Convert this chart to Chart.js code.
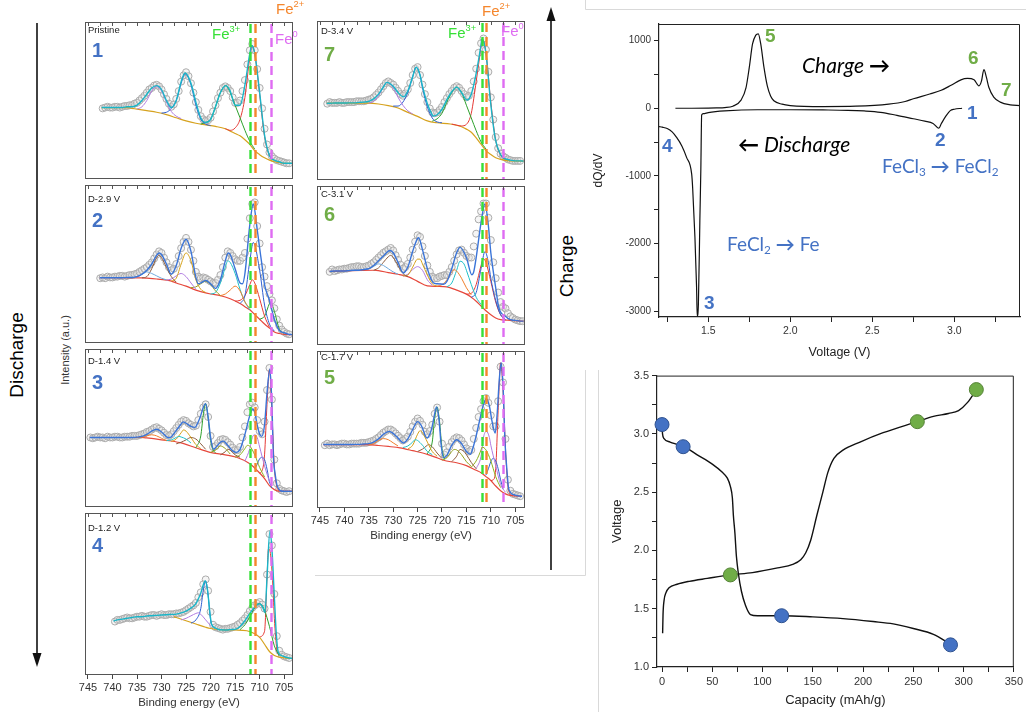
<!DOCTYPE html>
<html>
<head>
<meta charset="utf-8">
<title>Fe 2p XPS, dQ/dV and voltage profile</title>
<script src="https://cdn.jsdelivr.net/npm/chart.js@4.4.1/dist/chart.umd.min.js"></script>
<style>
  html, body { margin: 0; padding: 0; background: #fff; }
  body { position: relative; width: 1026px; height: 725px; overflow: hidden;
         font-family: Arial, "Liberation Sans", sans-serif; }
  canvas { position: absolute; }
  svg { position: absolute; left: 0; top: 0; }
  .t { position: absolute; white-space: nowrap; line-height: 1; }
  .cond { font-size: 9.5px; color: #222; }
  .num { font-size: 20px; font-weight: bold; }
  .blue { color: #4472c4; }
  .green { color: #70ad47; }
  .fe { font-size: 15px; }
  .fe sup { font-size: 62%; position: relative; top: -0.15em; vertical-align: top; }
  .cal { font-family: Lato, "Open Sans", sans-serif; }
  .cal sub { font-size: 62%; vertical-align: -0.25em; line-height: 0; }
  .rot { transform: rotate(-90deg); text-align: center; }
</style>
</head>
<body>
<svg width="1026" height="725">
  <g fill="none" stroke="#d9d9d9" stroke-width="1">
    <path d="M585.5 0 V9.5 H1026"/>
    <path d="M585.5 370 V575.5 H315"/>
    <path d="M598.5 370 V712"/>
  </g>
  <g stroke="#111" stroke-width="1.6" fill="#111">
    <line x1="37" y1="23" x2="37" y2="655"/>
    <polygon points="32.5,653 41.5,653 37,667" stroke="none"/>
    <line x1="551" y1="570" x2="551" y2="20"/>
    <polygon points="546.5,21 555.5,21 551,7" stroke="none"/>
  </g>
</svg>

<div class="t rot" style="left:-33px;top:345px;width:100px;height:20px;font-size:19px;">Discharge</div>
<div class="t rot" style="left:16px;top:344px;width:100px;height:12px;font-size:11px;color:#333;">Intensity (a.u.)</div>
<div class="t rot" style="left:517px;top:256px;width:100px;height:20px;font-size:19px;">Charge</div>

<script>
// ---------- Fe 2p XPS spectra: [binding energy (eV), intensity (a.u.)] ----------
const feLines = [711.9, 710.9, 707.6];              // Fe3+, Fe2+, Fe0
const feLineColors = ['#36e036', '#f5862c', '#df6cf2'];

// 1 - pristine
const p1Data = [[742,45],[741.5,45.5],[741,46],[740.5,45.5],[740,45.5],[739.5,46],[739,46],[738.5,45.5],[738,46],[737.5,46.5],[737,46.5],[736.5,47],[736,47],[735.5,48],[735,48.5],[734.5,50],[734,51.5],[733.5,53],[733,55],[732.5,57],[732,58],[731.5,59.5],[731,60],[730.5,59],[730,57],[729.5,54],[729,51],[728.5,48],[728,46],[727.5,47.5],[727,51],[726.5,56],[726,62],[725.5,66],[725,68],[724.5,65.5],[724,61],[723.5,55],[723,49],[722.5,44],[722,40],[721.5,38],[721,37],[720.5,37.5],[720,39],[719.5,43],[719,47],[718.5,51.5],[718,55],[717.5,58],[717,59],[716.5,58],[716,56],[715.5,52],[715,48.5],[714.5,48.5],[714,50],[713.5,56],[713,63],[712.5,73],[712,82],[711.5,86],[711,82],[710.5,70],[710,58],[709.5,45],[709,32],[708.5,22],[708,17],[707.5,14.5],[707,13],[706.5,12],[706,11.5],[705.5,11],[705,10.5],[704.5,10],[704,10]];
const p1Fit = [[742.2,45.5],[741,45.5],[740,45.5],[739,45.5],[738,45.5],[737,46],[736,46],[735,47],[734,50],[733,54],[732,58],[731,59.5],[730,57],[729,50],[728,45.5],[727,50],[726,62],[725.2,67.5],[724,61],[723,49],[722,39],[721,36],[720,38],[719,46],[718,55],[716.9,59.5],[716,56],[715,47],[714,47],[713,60],[712,80],[711.6,85],[711,80],[710,55],[709,28],[708,15],[707,12],[706,11],[705,10],[704,10],[703.4,10]];
const p1Bg = [[742.2,45.5],[737,45.5],[736,45],[735,44.5],[733,43.5],[731,42.5],[729,41],[727,39],[725,37],[723,35.5],[721,34.5],[719,33.5],[717,32],[716,30.5],[715,29],[714,27.5],[713,25],[712,22],[711,18],[710,15.5],[709,13.5],[708,12],[707,11],[706,10.5],[705,10],[703.4,10]];
const p1Peaks = [
  [[735,44.5],[734,46],[733,50],[732,56],[731,59],[730,56],[729,49],[728,43],[727,40],[726,38.5]],
  [[730,42],[729,42.5],[728,45],[727,50],[726,61],[725.2,67],[724,60],[723,47],[722,38],[721,35],[720,34]],
  [[722,35],[721,36],[720,38],[719,46],[718,55],[716.9,59.5],[716,55],[715,47],[714,39],[713,31],[712,24],[711,19]],
  [[717,32],[716,31],[715,32.5],[714,38],[713,52],[712,78],[711.6,85],[711,80],[710,54],[709,27],[708,15],[707,12]]
];

// 2 - D-2.9 V
const p2Data = [[742.5,41],[742,41.5],[741.5,41],[741,42],[740.5,41.5],[740,41.5],[739.5,42],[739,42],[738.5,42.5],[738,42.5],[737.5,42],[737,42.5],[736.5,43],[736,43],[735.5,43.5],[735,44],[734.5,45],[734,46],[733.5,47],[733,48],[732.5,49.5],[732,51],[731.5,53.5],[731,56],[730.5,58],[730,57],[729.5,54],[729,51],[728.5,48],[728,46],[727.5,47],[727,50],[726.5,55],[726,60],[725.5,64],[725,66.5],[724.5,64],[724,59],[723.5,52],[723,45],[722.5,42],[722,41],[721.5,41.5],[721,41],[720.5,40],[720,39],[719.5,38],[719,38],[718.5,40],[718,43],[717.5,48],[717,54],[716.5,58],[716,57],[715.5,55],[715,53],[714.5,52],[714,52],[713.5,54],[713,57],[712.5,66],[712,79],[711.5,88],[711,89],[710.5,74],[710,63],[709.5,48],[709,42],[708.5,36],[708,31],[707.5,27],[707,22],[706.5,15],[706,11],[705.5,8.5],[705,7],[704.5,6],[704,5.5]];
const p2Fit = [[742.6,41.3],[741,41.3],[740,41.3],[739,41.3],[738,41.3],[737,41.5],[736,41.5],[735,42],[734,43.5],[733,46],[732,50],[731,55.5],[730.5,57],[730,56],[729,50],[728,43.5],[727,49],[726,60],[725,65.7],[724,58],[723,41.5],[722.5,37.5],[722,38],[721,39.6],[720,37.5],[719,34.5],[718,40],[717,52],[716.4,57],[716,56],[715,47],[714,38],[713.5,37.5],[713,44],[712,75],[711.3,88],[710.5,72],[710,60],[709.6,51],[709,37],[708,27],[707,15],[706,8],[705,6.5],[704,5.5],[703.4,5.3]];
const p2Bg = [[742.6,41.3],[734,41.2],[733,41],[731,40.5],[729,39.8],[728,39.2],[727,38],[725,36],[723,33.5],[722,32.5],[720,31],[718,30],[716,28],[714,25],[713,23],[712,21],[711,18],[710,15],[709,12],[708,9.5],[707,7],[706,6],[705,5.5],[703.4,5.3]];
const p2Peaks = [
  [[736,41.2],[735,42],[734,43.5],[733,45],[732,44],[731,42.5],[730,41],[729,40]],
  [[734,41.2],[733,42],[732,47],[731,54],[730.5,55.5],[730,54],[729,48],[728,42],[727,38.5]],
  [[728,39.2],[727,41],[726,50],[725,57],[724,52],[723,40],[722,34],[721,32]],
  [[729,39.8],[728,40.5],[727,42.5],[726,44],[725,42],[724,38],[723,34]],
  [[724,35],[723,35.5],[722,37.5],[721,39],[720,37],[719,33],[718,30]],
  [[718,30],[717,31],[716,33.5],[715,36],[714,33],[713,26],[712,22]],
  [[720,31],[719,32],[718,38],[717,48],[716.5,52],[716,51],[715,44],[714,34],[713,26],[712,21]],
  [[714,25],[713,30],[712,52],[711.3,63.6],[710,46],[709,24],[708,12],[707,7.5]],
  [[715,26.5],[714,27],[713,30],[712,37],[711.5,40],[711,38],[710,28],[709,17],[708,10]],
  [[710,15],[709,17],[708,25],[707.8,26],[707,20],[706,9],[705,6]]
];

// 3 - D-1.4 V
const p3Data = [[744.5,44],[744,43.5],[743.5,44],[743,44.5],[742.5,44],[742,44],[741.5,43.5],[741,44.5],[740.5,44],[740,44],[739.5,44.5],[739,44.5],[738.5,44],[738,44],[737.5,44.5],[737,44.5],[736.5,44.5],[736,45],[735.5,45],[735,45],[734.5,45.5],[734,46],[733.5,46.5],[733,47.5],[732.5,48],[732,49],[731.5,50],[731,50.5],[730.5,49.5],[730,48.5],[729.5,47],[729,45.5],[728.5,45],[728,46],[727.5,48],[727,50],[726.5,52],[726,54],[725.5,55],[725,54.5],[724.5,53],[724,52],[723.5,51],[723,51.5],[722.5,55],[722,59],[721.5,63],[721,65],[720.5,57],[720,45],[719.5,38],[719,38.5],[718.5,40.5],[718,42.5],[717.5,43],[717,42.5],[716.5,41],[716,39.5],[715.5,37.5],[715,36],[714.5,36],[714,38],[713.5,44],[713,51],[712.5,60],[712,65],[711.5,66],[711,63],[710.5,55],[710,48],[709.5,46],[709,54],[708.5,74],[708,88],[707.5,68],[707,30],[706.5,15],[706,11.5],[705.5,10.5],[705,10],[704.5,9.5],[704,10]];
const p3Fit = [[744.6,44],[743,44],[742,44],[741,44],[740,44],[739,44],[738,44],[737,44],[736,44],[735,44.2],[734,44.7],[733,46],[732,48],[731,49.2],[730,47.5],[729,44.5],[728.6,43.8],[728,44.5],[727,48.5],[726,52.5],[725.6,53.9],[725,53],[724,51],[723.2,50.4],[722.5,54],[722,58],[721.5,63],[721,65.4],[720.5,57],[720,44],[719.4,36.6],[719,37.5],[718,41],[717.4,41.7],[716.5,39],[715.5,35.5],[714.7,34.6],[714,36.5],[713,46],[712,58],[711.4,62],[711,60],[710.5,52],[710,46],[709.6,44.7],[709,52],[708.5,72],[707.9,87.4],[707.5,65],[707.2,32.5],[706.8,20],[706.5,14.2],[706,11],[705.8,10.3],[705,10],[704,10],[703.4,10]];
const p3Bg = [[744.6,44],[734,44],[733,43.7],[730,42.5],[726.2,40.7],[723,37.5],[720.1,34.6],[717,33],[714.7,31.5],[712,27.4],[710,21.5],[709,18],[708,13.5],[707,11],[706,10],[703.4,10]];
const p3Peaks = [
  [[735,44],[734,44.2],[733,45],[732,45.7],[731,45],[730,43.5],[729,42]],
  [[729,42],[728,42.5],[727,44],[726.5,44.7],[726,44.3],[725,43],[724,40.5]],
  [[728,41.5],[727,43],[726,47],[725.5,48.8],[725,48],[724,44],[723,39.5],[722,37]],
  [[727,40],[726,41],[725,42.5],[724,44],[723,43],[722,40],[721,36.5]],
  [[723,37.5],[722,45],[721.5,58],[721,65.4],[720.5,56],[720,42],[719.5,36],[719,34.5]],
  [[720,34.6],[719,36],[718,38.6],[717,37],[716,33.5]],
  [[718,33],[717,35],[716.5,36.6],[716,36],[715,33],[714,31.5]],
  [[715,31.5],[714,33],[713,37],[712.5,39],[712,38.5],[711,33],[710,25],[709,19]],
  [[713,29],[712,37],[711.5,44],[711,45.7],[710.5,44],[710,38],[709,26],[708,16]],
  [[711,24],[710.5,27],[710,30.5],[709.5,31.5],[709,30],[708.5,24],[708,16],[707.5,12]],
  [[710,21.5],[709.5,23],[709,33],[708.5,65],[708,87],[707.5,60],[707,25],[706.5,13],[706,10]]
];

// 4 - D-1.2 V
const p4Data = [[739.5,33],[739,34],[738.5,34],[738,34.5],[737.5,35],[737,35.5],[736.5,35],[736,35],[735.5,35.5],[735,36],[734.5,36],[734,36.5],[733.5,36],[733,36],[732.5,36.5],[732,37],[731.5,37],[731,36.5],[730.5,37],[730,37.5],[729.5,37],[729,37],[728.5,37.5],[728,37.5],[727.5,37.5],[727,38],[726.5,38],[726,38.5],[725.5,39],[725,40],[724.5,41],[724,42],[723.5,43],[723,44.5],[722.5,48],[722,51],[721.5,56],[721,59],[720.5,52],[720,39],[719.5,31],[719,29.5],[718.5,29],[718,28.5],[717.5,28],[717,28.5],[716.5,28.5],[716,29],[715.5,29.5],[715,30],[714.5,31],[714,32],[713.5,33.5],[713,35],[712.5,37],[712,39.5],[711.5,41.5],[711,43],[710.5,44],[710,45],[709.5,43.5],[709,41],[708.5,62],[708,87],[707.5,80],[707,50],[706.5,24],[706,15],[705.5,12.5],[705,11.5],[704.5,11],[704,10.5]];
const p4Fit = [[739.8,33.3],[739,34],[738,34.5],[737,35],[736,35.5],[735,36],[734,36],[733,36.4],[732,36.6],[731,36.8],[730,37],[729,37.2],[728,37.4],[727,37.6],[726,38.3],[725,39.5],[724,41.3],[723.5,42.4],[723,44],[722.5,47],[722,50.5],[721.5,55.5],[721.1,58.2],[720.6,52],[720.2,40],[719.8,31.3],[719,29],[718.1,27.9],[717,27.8],[716,28],[714.7,28.5],[714,30],[713,33.5],[712,38],[711,42],[710,44],[709.4,42],[708.9,38.4],[708.5,60],[707.9,88.9],[707.5,78],[707,48],[706.6,25],[706.2,14.1],[705.5,12],[704.8,11.1],[704,10.5],[703.4,10.3]];
const p4Bg = [[727.5,36],[727,35.5],[725,33.5],[723,31.5],[721,29.5],[720,28.7],[718,28],[715,27.8],[712.6,27.3],[711,25.5],[710,23.2],[709,19],[708,14.5],[707,12],[706,11],[704,10.3],[703.4,10.3]];
const p4Peaks = [
  [[726,34],[725,35],[724,36.5],[723,38],[722.5,38.4],[722,37.5],[721,34],[720,30.5]],
  [[724,32],[723,34],[722,41],[721.5,52],[721,58],[720.5,49],[720,34],[719.5,29.5]],
  [[714,28],[713,31],[712,36],[711,41.5],[710.3,44],[709.5,43],[709,40],[708,30],[707,18],[706,12]],
  [[710,23.5],[709,27],[708.5,60],[708.2,77.8],[707.8,75],[707.3,55],[707,35],[706.5,16],[706,12]]
];

// 7 - D-3.4 V
const p7Data = [[743.5,48],[743,49],[742.5,48.5],[742,48.5],[741.5,48.5],[741,49],[740.5,48.5],[740,48.5],[739.5,49],[739,49],[738.5,49],[738,49],[737.5,49.5],[737,49.5],[736.5,49.5],[736,49.5],[735.5,50],[735,50.5],[734.5,51],[734,52],[733.5,53.5],[733,55],[732.5,57],[732,59],[731.5,61],[731,62],[730.5,61],[730,60],[729.5,58],[729,56],[728.5,54],[728,53],[727.5,54.5],[727,57],[726.5,61],[726,66],[725.5,70],[725,71],[724.5,66],[724,60],[723.5,54],[723,49],[722.5,45],[722,42.5],[721.5,42],[721,42.5],[720.5,44],[720,46],[719.5,49],[719,51.5],[718.5,54],[718,56],[717.5,58],[717,59],[716.5,58],[716,56],[715.5,54],[715,52],[714.5,53],[714,56],[713.5,62],[713,70],[712.5,80],[712,86],[711.5,89],[711,82],[710.5,68],[710,52],[709.5,38],[709,27],[708.5,20],[708,16.5],[707.5,15],[707,14],[706.5,13],[706,12.5],[705.5,12],[705,12],[704.5,12],[704,12]];
const p7Fit = [[743.6,48.3],[743,48.3],[742,48.4],[741,48.4],[740,48.4],[739,48.5],[738,48.5],[737,48.8],[736,49],[735,49.5],[734,51],[733,54],[732,58.5],[731.3,61.4],[730,59],[729,55],[727.9,52.3],[727,56],[726,65],[725.3,70.9],[724.5,66],[724,59],[723,48],[722,41],[721.8,40.2],[721,41],[720,44.5],[719,50.5],[718,55.5],[717,58.4],[716,55],[714.9,50.3],[714,54],[713,67],[712,85],[711.8,88.7],[711,80],[710.1,50.3],[709.1,26.1],[708,16],[707.4,13.9],[706,12.5],[705,12],[704,12],[703.3,11.9]];
const p7Bg = [[743.6,48.3],[735,48.3],[733,47.8],[731,46.8],[729,45.3],[727,42.5],[725,40],[723,37.2],[721,36],[718.3,35.2],[716,33.5],[715,32],[714,30],[713,26.5],[712,22.5],[711,18.5],[710,16],[709,14],[708,13],[706,12],[703.3,11.9]];
const p7Peaks = [
  [[735,48.3],[734,49.5],[733,53],[732,58.5],[731.3,61.4],[730,58],[729,52],[728,47],[727,43.5],[726,41.5]],
  [[730,46.5],[729,46.5],[728,49],[727,55],[726,65],[725.3,70.9],[724.5,66],[724,58],[723,46],[722,39],[721,36.5],[720,36]],
  [[722,37],[721,38.5],[720,42],[719,49],[718,55],[717,58.4],[716,55],[715,47],[714,39],[713,31],[712,24],[711,19.5]],
  [[718,35.2],[717,34.5],[716,34],[715,35],[714,42],[713,62],[712,84],[711.8,88.7],[711,80],[710,49],[709,25],[708,15.5],[707,13]]
];

// 6 - C-3.1 V
const p6Data = [[743,46],[742.5,47.5],[742,46.5],[741.5,47],[741,47.5],[740.5,47.5],[740,48],[739.5,48],[739,48.5],[738.5,49],[738,49],[737.5,49.5],[737,49.5],[736.5,49],[736,49],[735.5,49.5],[735,50],[734.5,51],[734,52],[733.5,53.5],[733,55],[732.5,56.5],[732,58],[731.5,59],[731,60],[730.5,61],[730,59.5],[729.5,56.5],[729,53.5],[728.5,50.5],[728,48],[727.5,49],[727,51],[726.5,55],[726,60],[725.5,65],[725,69],[724.5,68],[724,62],[723.5,56],[723,50],[722.5,46],[722,43],[721.5,42],[721,42],[720.5,43],[720,43.5],[719.5,44],[719,44],[718.5,46],[718,49],[717.5,53],[717,57],[716.5,59.5],[716,60],[715.5,58],[715,56],[714.5,55],[714,55],[713.5,62],[713,70],[712.5,79],[712,84],[711.5,89],[711,89],[710.5,80],[710,66],[709.5,52],[709,42],[708.5,33],[708,27],[707.5,24],[707,23],[706.5,20],[706,18],[705.5,17],[705,16],[704.5,15.5],[704,15],[703.5,15]];
const p6Fit = [[743,46.3],[742,46.5],[741,46.5],[740,46.5],[739,46.8],[738,47],[737,47],[736,47.5],[735,48],[734,50],[733,53],[732,56],[731,59],[730.6,59.4],[730,58],[729,52],[727.9,45.3],[727,49],[726,59],[725,67],[724.8,67.5],[724,60],[723,48],[721.8,39.2],[721,38.5],[719.7,38.2],[719,40],[718,48],[717,58],[716.3,61.4],[715,55],[713.9,44.2],[713.5,46],[713,55],[712,77],[711.2,88.7],[710.5,75],[710,58],[709.4,44.2],[709,36],[708.4,24],[707,18],[706,16],[705,15.5],[704,15],[703.3,15]];
const p6Bg = [[743,46.3],[734,47],[733,46.8],[731,45.5],[729,44.5],[727,43],[725,40],[723,37.2],[721,36.9],[719,36.6],[717,34.5],[715,32],[714,30],[713,27.5],[712,24.5],[711,21.5],[710,19],[709,17],[708,16],[706,15.5],[703.3,15]];
const p6Peaks = [
  [[736,47.5],[735,48],[734,49.5],[733,51],[732,50],[731,48],[730,46],[729,44.5]],
  [[734,47],[733,48.5],[732,52],[731,55.5],[730.5,56.4],[730,55],[729,50],[728,45],[727,43]],
  [[728,43.5],[727,44],[726,49],[725,54],[724.5,54],[724,51],[723,44],[722,38.5],[721,37]],
  [[728,43.3],[727,44.5],[726,47.5],[725,49.3],[724,47],[723,41],[722,37.5]],
  [[721,37],[720,38],[719,41],[718,46],[717.5,47.3],[717,46.5],[716,42],[715,36],[714,31.5]],
  [[719,36.6],[718,39],[717,47],[716.3,52.7],[715.5,51],[715,47],[714,38],[713,30],[712,25.5]],
  [[714,30],[713,33],[712,48],[711.2,58.8],[710.5,52],[710,42],[709,28],[708,19],[707,16]],
  [[715,32],[714,32.5],[713,38],[712,50],[711.5,54.3],[711,52],[710,40],[709,27],[708,19],[707,16]]
];

// 5 - C-1.7 V
const p5Data = [[744,40],[743.5,41],[743,40],[742.5,40.5],[742,40.5],[741.5,40],[741,40.5],[740.5,41],[740,41],[739.5,40.5],[739,40.5],[738.5,41],[738,41],[737.5,41],[737,41],[736.5,41.5],[736,41.5],[735.5,41.5],[735,42],[734.5,42.5],[734,43],[733.5,44],[733,45],[732.5,46.5],[732,48],[731.5,49],[731,50],[730.5,50],[730,49],[729.5,47.5],[729,46],[728.5,44.5],[728,43],[727.5,44],[727,45.5],[726.5,48.5],[726,52],[725.5,55],[725,57],[724.5,55.5],[724,53],[723.5,48.5],[723,47],[722.5,49],[722,53],[721.5,60],[721,64],[720.5,55],[720,41],[719.5,34],[719,35.5],[718.5,39],[718,42],[717.5,44],[717,45],[716.5,44.5],[716,43],[715.5,40.5],[715,38],[714.5,36],[714,37],[713.5,44],[713,51],[712.5,58],[712,63],[711.5,68],[711,70],[710.5,67],[710,59],[709.5,52],[709,52],[708.5,68],[708,90],[707.5,80],[707,44],[706.5,18],[706,11],[705.5,9],[705,8.5],[704.5,8],[704,7.5]];
const p5Fit = [[744.3,40.4],[743,40.4],[742,40.4],[741,40.4],[740,40.4],[739,40.4],[738,40.5],[737,40.5],[736,40.8],[735,41],[734,42],[733,44],[732,47],[730.8,48.8],[730,47.5],[729,44.5],[727.9,41.4],[727,44],[726,50],[725,55],[724,51],[723.5,46.5],[723.1,44.6],[722.5,47],[722,52],[721.5,60],[721.1,64.4],[720.6,56],[720.2,41],[719.7,32.1],[719,33.5],[718,40],[717,43.5],[716,41],[715,36],[714.2,34.2],[713.5,40],[713,46],[712.2,57],[711.5,66],[710.9,69.6],[710.3,65],[709.8,56],[709.1,47.7],[708.7,60],[708.3,80],[707.9,92.5],[707.5,78],[707.1,42.5],[706.7,24],[706.4,13.3],[706,10],[705,8.2],[704,7.6],[703.6,7.5]];
const p5Bg = [[744.3,40.4],[735.4,40.4],[733,39.8],[731,39.2],[728.6,38.3],[726,36.5],[723,34.2],[721,32],[719.7,30.4],[717,28.8],[715,27],[713,24],[712,22.5],[711,20],[710,17.5],[709,14],[708,11],[707,9],[706,8],[703.6,7.5]];
const p5Peaks = [
  [[735,40.4],[734,41],[733,43],[732,44.2],[731,43.5],[730,41.5],[729,39.5]],
  [[728,38.5],[727,39.5],[726,42],[725.5,43.5],[725,43],[724,40],[723,36],[722,34]],
  [[727,37.5],[726,40],[725,47],[724.5,49.2],[724,48],[723,42],[722,36],[721,33]],
  [[725,36],[724,37.5],[723,40],[722.8,40.4],[722,39],[721,35],[720,31.5]],
  [[723,34.5],[722,42],[721.5,57],[721,64.4],[720.5,55],[720,38],[719.5,31]],
  [[720,30.5],[719,32],[718,36],[717.5,37.3],[717,37],[716,34],[715,29.5],[714,26.5]],
  [[718,29.5],[717,33],[716.3,37.3],[715.5,36],[715,34],[714,29],[713,25]],
  [[714,26],[713,30],[712,37],[711.8,38.8],[711,37],[710,30],[709,20],[708,13]],
  [[713,25],[712,33],[711.5,45],[710.9,48.8],[710.3,45],[710,40],[709,27],[708,15],[707,10]],
  [[711,21],[710.5,25],[710,29.5],[709.5,31.7],[709,30],[708.5,25],[708,18],[707.5,12]],
  [[710,17.5],[709.5,18],[709,25],[708.5,62],[708,92.5],[707.5,75],[707,38],[706.5,14],[706,8.5]]
];

// ---------- dQ/dV: [voltage (V), dQ/dV] ----------
const dqCharge = [[1.30,0],[1.40,0],[1.50,2],[1.55,5],[1.60,10],[1.65,30],[1.70,120],[1.73,300],[1.75,600],[1.77,950],[1.79,1080],[1.805,1100],[1.82,950],[1.84,600],[1.86,330],[1.88,180],[1.90,110],[1.95,60],[2.0,40],[2.2,25],[2.4,30],[2.6,60],[2.7,100],[2.75,140],[2.85,210],[2.92,265],[2.98,340],[3.04,420],[3.08,440],[3.12,420],[3.15,330],[3.165,400],[3.18,570],[3.195,460],[3.21,310],[3.24,165],[3.28,90],[3.34,50],[3.40,40]];
const dqDischarge = [[1.2,-270],[1.22,-280],[1.25,-300],[1.28,-350],[1.307,-430],[1.34,-560],[1.368,-726],[1.399,-970],[1.405,-1170],[1.419,-1910],[1.429,-2650],[1.433,-3070],[1.44,-2900],[1.449,-1660],[1.455,-900],[1.46,-100],[1.47,-80],[1.5,-65],[1.6,-40],[1.8,-22],[2.0,-22],[2.2,-25],[2.35,-30],[2.45,-40],[2.55,-60],[2.65,-105],[2.75,-155],[2.82,-190],[2.87,-225],[2.89,-270],[2.905,-295],[2.92,-230],[2.95,-110],[2.975,-35],[3.0,-15],[3.047,0]];
const dqYTicks = [-3000, -2500, -2000, -1500, -1000, -500, 0, 500, 1000];

// ---------- Voltage profile: [capacity (mAh/g), voltage (V)] ----------
const vDischarge = [[0,3.08],[0.5,3.0],[2,2.96],[8,2.93],[15,2.91],[22,2.89],[35,2.82],[50,2.74],[60,2.67],[65,2.62],[68,2.55],[70,2.45],[71,2.30],[72.5,2.15],[74,1.95],[76,1.80],[79,1.65],[83,1.53],[88,1.45],[95,1.44],[120,1.44],[150,1.43],[180,1.415],[210,1.39],[230,1.37],[250,1.33],[270,1.28],[288,1.19]];
const vCharge = [[0.6,1.29],[1,1.45],[2,1.57],[4,1.64],[7,1.68],[15,1.71],[27,1.735],[45,1.76],[68,1.79],[90,1.81],[115,1.85],[130,1.88],[138,1.92],[143,1.98],[148,2.09],[154,2.3],[160,2.5],[165,2.67],[171,2.79],[180,2.86],[197,2.93],[220,3.01],[254,3.105],[270,3.15],[285,3.175],[295,3.2],[304,3.27],[312.7,3.38]];
const vDischargeMarks = [[0,3.08],[21,2.89],[119,1.44],[287,1.19]];
const vChargeMarks = [[68,1.79],[254,3.105],[312.7,3.38]];

// ---------- drawing ----------
Chart.defaults.font.family = 'Arial, "Liberation Sans", sans-serif';
Chart.defaults.color = '#333';

const xy = pts => pts.map(([x, y]) => ({x, y}));
const cyanFit = '#19b5c8', goldBg = '#d6a21e', blueFit = '#3a74d8', redBg = '#e6483c';
const cPurple = '#b07be0', cBlue = '#2f5fd0', cGreen = '#2ca02c', cRed = '#e53935',
      cLight = '#6fa8dc', cBrown = '#8b5a3c', cGold = '#d4a017', cOlive = '#95a01c',
      cOrange = '#f07f2a', cCyan = '#20c0c8';

// frame, inward top ticks and the Fe reference lines of one XPS panel
const xpsFrame = {
  id: 'xpsFrame',
  afterDatasetsDraw(chart) {
    const {ctx, chartArea: a, scales: {x}} = chart;
    ctx.save();
    ctx.lineWidth = 2.4;
    ctx.setLineDash([9, 5]);
    feLines.forEach((e, i) => {
      const px = Math.round(x.getPixelForValue(e)) + 0.5;
      ctx.strokeStyle = feLineColors[i];
      ctx.beginPath(); ctx.moveTo(px, a.top + 2); ctx.lineTo(px, a.bottom); ctx.stroke();
    });
    ctx.setLineDash([]);
    ctx.lineWidth = 1;
    ctx.strokeStyle = '#555';
    ctx.strokeRect(a.left + 0.5, a.top + 0.5, a.right - a.left - 1, a.bottom - a.top - 1);
    for (let e = 745; e > x.min; e -= 2.5) {
      const px = Math.round(x.getPixelForValue(e)) + 0.5;
      ctx.beginPath(); ctx.moveTo(px, a.top); ctx.lineTo(px, a.top + 4); ctx.stroke();
    }
    ctx.restore();
  }
};

function lineSet(pts, color, width) {
  return { data: xy(pts), borderColor: color, borderWidth: width, pointRadius: 0,
           fill: false, cubicInterpolationMode: 'monotone' };
}

function xpsPanel(p) {
  const axisH = p.axis ? 52 : 0;
  const padB = p.axis ? 0 : 2;
  const c = document.createElement('canvas');
  c.width = 208 + 24;
  c.height = p.h + 2 + padB + axisH;
  c.style.left = (p.x - 12) + 'px';
  c.style.top = (p.y - 2) + 'px';
  document.body.appendChild(c);

  const datasets = [lineSet(p.fit, p.fitColor, 1.4)]
    .concat(p.peaks.map((pk, i) => lineSet(pk, p.peakColors[i], 1)))
    .concat([lineSet(p.bg, p.bgColor, 1.2), {
      data: xy(p.data), showLine: false, pointRadius: 3.5, pointBorderWidth: 1,
      pointBorderColor: '#ababab', pointBackgroundColor: 'rgba(225,225,225,0.35)'
    }]);

  new Chart(c, {
    type: 'line',
    data: { datasets },
    options: {
      responsive: false, animation: false, devicePixelRatio: 1,
      layout: { padding: { left: 12, right: 12, top: 2, bottom: padB } },
      plugins: { legend: { display: false }, tooltip: { enabled: false } },
      scales: {
        x: {
          type: 'linear', reverse: true, min: p.xmin, max: 745.6, display: !!p.axis,
          ticks: { stepSize: 5, includeBounds: false, autoSkip: false, maxRotation: 0,
                   color: '#333', font: { size: 11 }, padding: 2 },
          grid: { drawOnChartArea: false, tickLength: 4, color: '#444' },
          border: { display: false },
          title: { display: true, text: 'Binding energy (eV)', color: '#333',
                   font: { size: 11.5 }, padding: { top: 0, bottom: 17 } },
          afterFit(s) { s.height = axisH; }
        },
        y: { display: false, min: 0, max: 100 }
      }
    },
    plugins: [xpsFrame]
  });
}

const xpsPanels = [
  { x: 85, y: 19, h: 163, xmin: 703.2, data: p1Data, fit: p1Fit, bg: p1Bg, peaks: p1Peaks,
    fitColor: cyanFit, bgColor: goldBg, peakColors: [cPurple, cBlue, cGreen, cRed] },
  { x: 85, y: 182, h: 164, xmin: 703.2, data: p2Data, fit: p2Fit, bg: p2Bg, peaks: p2Peaks,
    fitColor: blueFit, bgColor: redBg,
    peakColors: [cLight, cBrown, cGold, cPurple, cOlive, cOrange, cCyan, cBlue, cRed, cGreen] },
  { x: 85, y: 346, h: 164, xmin: 703.2, data: p3Data, fit: p3Fit, bg: p3Bg, peaks: p3Peaks,
    fitColor: blueFit, bgColor: redBg,
    peakColors: [cOrange, cCyan, cGold, cBrown, cGreen, cOlive, cBrown, '#8cb01c', cPurple, cBlue, cRed] },
  { x: 85, y: 510, h: 165, xmin: 703.2, axis: true, data: p4Data, fit: p4Fit, bg: p4Bg, peaks: p4Peaks,
    fitColor: cyanFit, bgColor: goldBg, peakColors: [cPurple, cBlue, cGreen, cRed] },
  { x: 317, y: 18, h: 165, xmin: 703, data: p7Data, fit: p7Fit, bg: p7Bg, peaks: p7Peaks,
    fitColor: cyanFit, bgColor: goldBg, peakColors: [cPurple, cBlue, cGreen, cRed] },
  { x: 317, y: 183, h: 165, xmin: 703, data: p6Data, fit: p6Fit, bg: p6Bg, peaks: p6Peaks,
    fitColor: blueFit, bgColor: redBg,
    peakColors: [cLight, cBrown, cGold, cPurple, cOrange, cCyan, cBlue, cRed] },
  { x: 317, y: 348, h: 160, xmin: 703, axis: true, data: p5Data, fit: p5Fit, bg: p5Bg, peaks: p5Peaks,
    fitColor: blueFit, bgColor: redBg,
    peakColors: [cOrange, cCyan, cGold, cBrown, cGreen, cOlive, cBrown, '#8cb01c', cPurple, cBlue, cRed] }
];
xpsPanels.forEach(xpsPanel);

// top and right sides of the plot box
const boxFrame = {
  id: 'boxFrame',
  afterDraw(chart) {
    const {ctx, chartArea: a} = chart;
    ctx.save();
    ctx.strokeStyle = '#222';
    ctx.lineWidth = 1;
    ctx.beginPath();
    ctx.moveTo(a.left, a.top + 0.5);
    ctx.lineTo(a.right - 0.5, a.top + 0.5);
    ctx.lineTo(a.right - 0.5, a.bottom);
    ctx.stroke();
    ctx.restore();
  }
};

const onStep = (v, step) => Math.abs(v / step - Math.round(v / step)) < 1e-6;

function sideCanvas(left, top, w, h) {
  const c = document.createElement('canvas');
  c.width = w; c.height = h;
  c.style.left = left + 'px'; c.style.top = top + 'px';
  document.body.appendChild(c);
  return c;
}

function axis(opts) {
  return Object.assign({
    type: 'linear',
    grid: { drawOnChartArea: false, color: '#222', tickLength: 5 },
    border: { color: '#222', width: 1.2 }
  }, opts);
}

// dQ/dV vs voltage
new Chart(sideCanvas(585, 10, 441, 352), {
  type: 'line',
  data: { datasets: [
    lineSet(dqCharge, '#111', 1.2),
    lineSet(dqDischarge, '#111', 1.2)
  ] },
  options: {
    responsive: false, animation: false, devicePixelRatio: 1,
    layout: { padding: { top: 14, right: 6, left: 0, bottom: 0 } },
    plugins: { legend: { display: false }, tooltip: { enabled: false } },
    scales: {
      x: axis({
        min: 1.2, max: 3.4,
        ticks: { stepSize: 0.25, includeBounds: false, autoSkip: false, maxRotation: 0,
                 font: { size: 10.5 }, color: '#333', padding: 3,
                 callback: v => onStep(v, 0.5) ? v.toFixed(1) : '' },
        title: { display: true, text: 'Voltage (V)', font: { size: 12.5 }, color: '#222',
                 padding: { top: 0, bottom: 2 } },
        afterFit(s) { s.height = 45; }
      }),
      y: axis({
        min: -3085, max: 1245,
        afterBuildTicks(s) { s.ticks = dqYTicks.map(value => ({ value })); },
        ticks: { autoSkip: false, font: { size: 10 }, color: '#333', padding: 3,
                 callback: v => onStep(v, 1000) ? String(v) : '' },
        title: { display: true, text: 'dQ/dV', font: { size: 12 }, color: '#222',
                 padding: { top: 6, bottom: 0 } },
        afterFit(s) { s.width = 74; }
      })
    }
  },
  plugins: [boxFrame]
});

// voltage vs capacity
function marks(pts, fill, edge) {
  return { data: xy(pts), showLine: false, pointRadius: 7, pointBorderWidth: 1,
           pointBackgroundColor: fill, pointBorderColor: edge, clip: false };
}

new Chart(sideCanvas(598, 366, 428, 359), {
  type: 'line',
  data: { datasets: [
    marks(vChargeMarks, '#70ad47', '#548235'),
    marks(vDischargeMarks, '#4472c4', '#2f528f'),
    lineSet(vDischarge, '#111', 1.4),
    lineSet(vCharge, '#111', 1.4)
  ] },
  options: {
    responsive: false, animation: false, devicePixelRatio: 1,
    layout: { padding: { top: 9, right: 9, left: 0, bottom: 0 } },
    plugins: { legend: { display: false }, tooltip: { enabled: false } },
    scales: {
      x: axis({
        min: -5, max: 350,
        ticks: { stepSize: 25, includeBounds: false, autoSkip: false, maxRotation: 0,
                 font: { size: 11 }, color: '#333', padding: 3,
                 callback: v => onStep(v, 50) ? String(v) : '' },
        title: { display: true, text: 'Capacity (mAh/g)', font: { size: 13 }, color: '#222',
                 padding: { top: 0, bottom: 17 } },
        afterFit(s) { s.height = 58; }
      }),
      y: axis({
        min: 1.0, max: 3.5,
        ticks: { stepSize: 0.25, includeBounds: false, autoSkip: false, font: { size: 11 }, color: '#333', padding: 3,
                 callback: v => onStep(v, 0.5) ? v.toFixed(1) : '' },
        title: { display: true, text: 'Voltage', font: { size: 13 }, color: '#222',
                 padding: { top: 12, bottom: 0 } },
        afterFit(s) { s.width = 59; }
      })
    }
  },
  plugins: [boxFrame]
});
</script>

<!-- XPS panel captions -->
<div class="t cond" style="left:88px;top:25px;">Pristine</div>
<div class="t num blue" style="left:92px;top:40px;">1</div>
<div class="t cond" style="left:88px;top:194px;">D-2.9 V</div>
<div class="t num blue" style="left:92px;top:210px;">2</div>
<div class="t cond" style="left:88px;top:356px;">D-1.4 V</div>
<div class="t num blue" style="left:92px;top:372px;">3</div>
<div class="t cond" style="left:88px;top:523px;">D-1.2 V</div>
<div class="t num blue" style="left:92px;top:535px;">4</div>
<div class="t cond" style="left:321px;top:26px;">D-3.4 V</div>
<div class="t num green" style="left:324px;top:44px;">7</div>
<div class="t cond" style="left:321px;top:189px;">C-3.1 V</div>
<div class="t num green" style="left:324px;top:204px;">6</div>
<div class="t cond" style="left:321px;top:352px;">C-1.7 V</div>
<div class="t num green" style="left:324px;top:367px;">5</div>

<div class="t fe" style="left:212px;top:26px;color:#36e036;">Fe<sup>3+</sup></div>
<div class="t fe" style="left:276px;top:1px;color:#f5862c;">Fe<sup>2+</sup></div>
<div class="t fe" style="left:275px;top:31px;color:#df6cf2;">Fe<sup>0</sup></div>
<div class="t fe" style="left:448px;top:25px;color:#36e036;">Fe<sup>3+</sup></div>
<div class="t fe" style="left:482px;top:3px;color:#f5862c;">Fe<sup>2+</sup></div>
<div class="t fe" style="left:501px;top:23px;color:#df6cf2;">Fe<sup>0</sup></div>

<!-- dQ/dV annotations -->
<div class="t num green" style="left:765px;top:26px;font-size:19px;">5</div>
<div class="t cal" style="left:802px;top:54px;font-size:21px;font-style:italic;">Charge <b style="font-style:normal">&#8594;</b></div>
<div class="t num green" style="left:968px;top:48px;font-size:19px;">6</div>
<div class="t num green" style="left:1001px;top:80px;font-size:19px;">7</div>
<div class="t num blue" style="left:967px;top:103px;font-size:19px;">1</div>
<div class="t num blue" style="left:935px;top:130px;font-size:19px;">2</div>
<div class="t cal" style="left:738px;top:133px;font-size:21px;font-style:italic;"><b style="font-style:normal">&#8592;</b> Discharge</div>
<div class="t cal blue" style="left:882px;top:156px;font-size:19px;">FeCl<sub>3</sub> <b>&#8594;</b> FeCl<sub>2</sub></div>
<div class="t num blue" style="left:662px;top:136px;font-size:19px;">4</div>
<div class="t cal blue" style="left:727px;top:234px;font-size:19px;">FeCl<sub>2</sub> <b>&#8594;</b> Fe</div>
<div class="t num blue" style="left:704px;top:293px;font-size:19px;">3</div>
</body>
</html>
